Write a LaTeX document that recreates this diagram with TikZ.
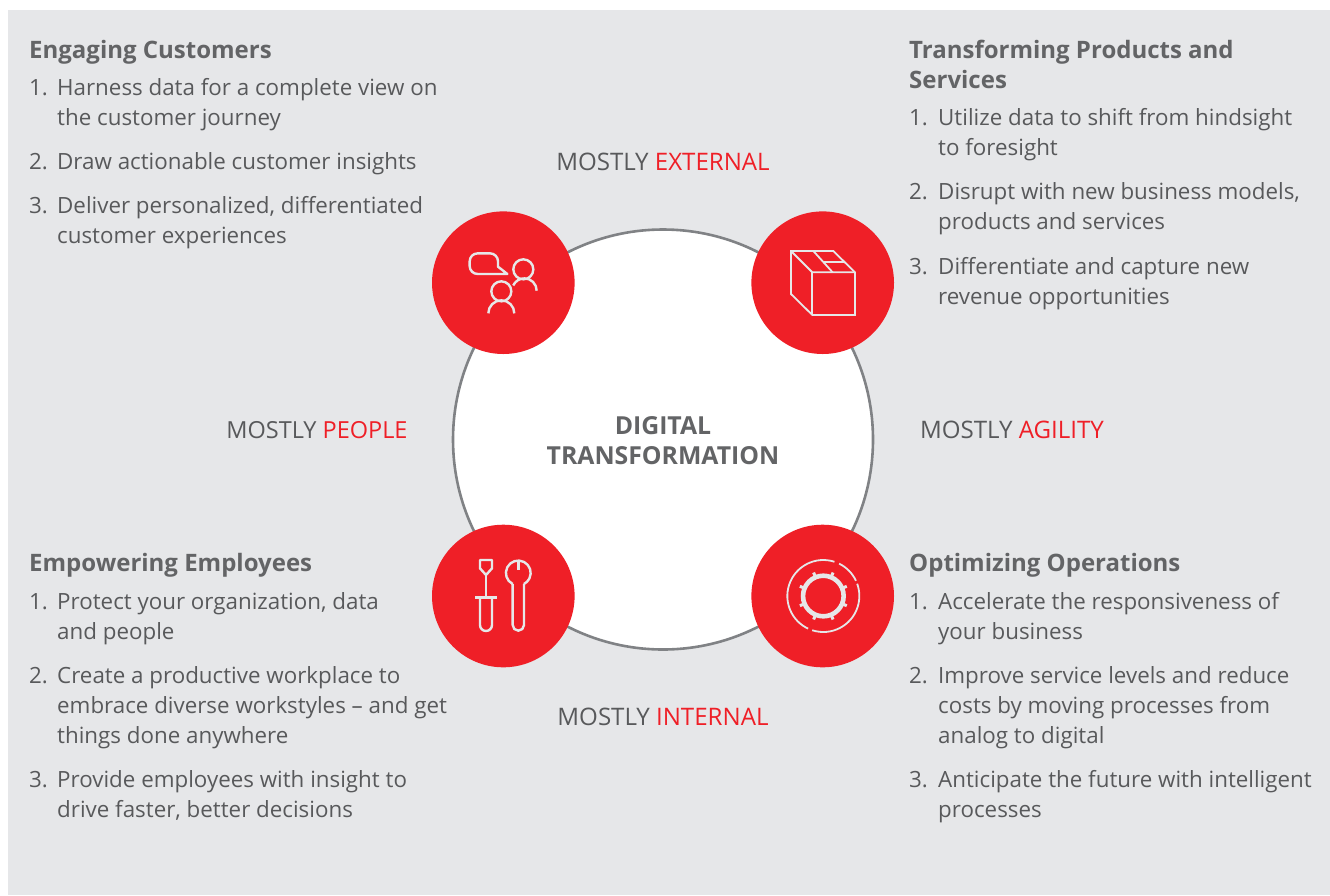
\documentclass[tikz,border=0pt]{standalone}
\usepackage{fontspec}
\setmainfont{Open Sans}
\definecolor{bgc}{HTML}{E6E7E9}
\definecolor{redc}{HTML}{EF1F27}
\definecolor{textc}{HTML}{58595B}
\definecolor{headc}{HTML}{636466}
\definecolor{ringc}{HTML}{808285}
\definecolor{iconc}{HTML}{E6E7E8}
\tikzset{
 body/.style={anchor=base west,inner sep=0pt,text=textc,font=\fontsize{22.35}{30}\selectfont},
 head/.style={anchor=base west,inner sep=0pt,text=headc,font=\fontsize{24}{30}\selectfont\bfseries},
 label/.style={anchor=base,inner sep=0pt,text=textc,font=\fontsize{24.1}{30}\selectfont},
 center/.style={anchor=base,inner sep=0pt,text=headc,font=\fontsize{24.8}{30}\selectfont\bfseries},
 badge/.style={circle,fill=redc,minimum size=142.6pt,inner sep=0pt},
 icon/.style={draw=iconc,line width=2.4pt,line join=round},
 thin icon/.style={draw=iconc,line width=1.8pt}
}
\newcommand{\hot}[1]{\textcolor{redc}{#1}}
\begin{document}
\begin{tikzpicture}[x=1pt,y=-1pt]
\useasboundingbox (0,0) rectangle (1330,895);
\fill[bgc] (8,10) rectangle (1330,895);
\node[circle,draw=ringc,fill=white,line width=2.6pt,minimum size=420pt,inner sep=0pt] (hub) at (663,439.5) {};
\node[badge] (bTL) at (503.3,282.7) {};
\node[badge] (bTR) at (822.7,282.7) {};
\node[badge] (bBL) at (503.3,596) {};
\node[badge] (bBR) at (822.7,596) {};
\node[center] (c1) at (663,434) {DIGITAL};
\node[center] (c2) at (663,464) {TRANSFORMATION};
\node[label] (ext) at (663,170) {MOSTLY \hot{EXTERNAL}};
\node[label] (int) at (663,725) {MOSTLY \hot{INTERNAL}};
\node[label,font=\fontsize{23.5}{30}\selectfont] (peo) at (317,438) {MOSTLY \hot{PEOPLE}};
\node[label] (agi) at (1012,438) {MOSTLY \hot{AGILITY}};
% Engaging Customers
\node[head] (h1) at (29,58) {Engaging Customers};
\node[body] (a1) at (29,95) {1.};
\node[body] (a1a) at (57,95) {Harness data for a complete view on};
\node[body] (a1b) at (57,125) {the customer journey};
\node[body] (a2) at (29,169) {2.};
\node[body] (a2a) at (57,169) {Draw actionable customer insights};
\node[body] (a3) at (29,213) {3.};
\node[body] (a3a) at (57,213) {Deliver personalized, differentiated};
\node[body] (a3b) at (57,243) {customer experiences};
% Transforming
\node[head] (h2) at (909,58) {Transforming Products and};
\node[head] (h2b) at (909,88) {Services};
\node[body] (b1) at (909,125) {1.};
\node[body] (b1a) at (938,125) {Utilize data to shift from hindsight};
\node[body] (b1b) at (938,155) {to foresight};
\node[body] (b2) at (909,199) {2.};
\node[body] (b2a) at (938,199) {Disrupt with new business models,};
\node[body] (b2b) at (938,229) {products and services};
\node[body] (b3) at (909,274) {3.};
\node[body] (b3a) at (938,274) {Differentiate and capture new};
\node[body] (b3b) at (938,304) {revenue opportunities};
% Employees
\node[head] (h3) at (29,571) {Empowering Employees};
\node[body] (c1n) at (29,609) {1.};
\node[body] (c1a) at (57,609) {Protect your organization, data};
\node[body] (c1b) at (57,639) {and people};
\node[body] (c2n) at (29,683) {2.};
\node[body] (c2a) at (57,683) {Create a productive workplace to};
\node[body] (c2b) at (57,713) {embrace diverse workstyles – and get};
\node[body] (c2c) at (57,743) {things done anywhere};
\node[body] (c3n) at (29,787) {3.};
\node[body] (c3a) at (57,787) {Provide employees with insight to};
\node[body] (c3b) at (57,817) {drive faster, better decisions};
% Operations
\node[head] (h4) at (909,571) {Optimizing Operations};
\node[body] (d1) at (909,609) {1.};
\node[body] (d1a) at (938,609) {Accelerate the responsiveness of};
\node[body] (d1b) at (938,639) {your business};
\node[body] (d2) at (909,683) {2.};
\node[body] (d2a) at (938,683) {Improve service levels and reduce};
\node[body] (d2b) at (938,713) {costs by moving processes from};
\node[body] (d2c) at (938,743) {analog to digital};
\node[body] (d3) at (909,787) {3.};
\node[body] (d3a) at (938,787) {Anticipate the future with intelligent};
\node[body] (d3b) at (938,817) {processes};
% people icon
\begin{scope}[shift={(420,200)},x=0.33333pt,y=-0.33333pt,icon]
\draw (262,222) -- (173,222) arc[start angle=270,end angle=180,radius=8pt] -- (149,184)
  arc[start angle=180,end angle=90,radius=8pt] -- (210,160)
  arc[start angle=90,end angle=0,radius=8pt] -- (234,200) -- cycle;
\draw (310,208) circle[radius=10pt];
\draw (350,272) arc[start angle=0,end angle=155,radius=12.3pt];
\draw (244,274) circle[radius=10pt];
\draw (283,340) arc[start angle=0,end angle=180,radius=13pt];
\end{scope}
% box icon
\begin{scope}[shift={(740,200)},x=0.33333pt,y=-0.33333pt,thin icon]
\draw (153,153) -- (280,153) -- (345,217) -- (345,345) -- (217,345) -- (153,282) -- cycle;
\draw (153,153) -- (217,217) -- (345,217);
\draw (217,217) -- (217,345);
\draw (220,153) -- (278,217);
\draw (250,185) -- (312,185);
\end{scope}
% tools icon
\begin{scope}[shift={(420,515)},x=0.33333pt,y=-0.33333pt,icon]
\draw (180,135) -- (216,135) -- (216,160) -- (198,180) -- (180,160) -- cycle;
\draw (198,180) -- (198,248);
\draw[line width=3pt] (165,248) -- (231,248);
\draw (180,248) -- (180,330) arc[start angle=180,end angle=360,radius=6pt] -- (216,248);
\draw (278,207) -- (278,330) arc[start angle=180,end angle=360,radius=5.67pt] -- (312,207);
\draw (278,207) arc[start angle=243,end angle=-63,radius=12.4pt];
\draw (295,142) -- (295,165);
\end{scope}
% gear icon
\begin{scope}[shift={(740,515)},x=0.33333pt,y=-0.33333pt]
\draw[draw=iconc,line width=4.6pt] (250,243) circle[radius=20.3pt];
\foreach \a in {22.5,67.5,...,337.5}
  \draw[draw=iconc,line width=3pt] (250,243) ++(\a:22pt) -- ++(\a:3.4pt);
\draw[thin icon] (250,243) ++(72:36pt) arc[start angle=72,end angle=245,radius=36pt];
\draw[thin icon] (250,243) ++(252:36pt) arc[start angle=252,end angle=380,radius=36pt];
\draw[thin icon] (250,243) ++(25:36pt) arc[start angle=25,end angle=64,radius=36pt];
\end{scope}
\end{tikzpicture}
\end{document}
